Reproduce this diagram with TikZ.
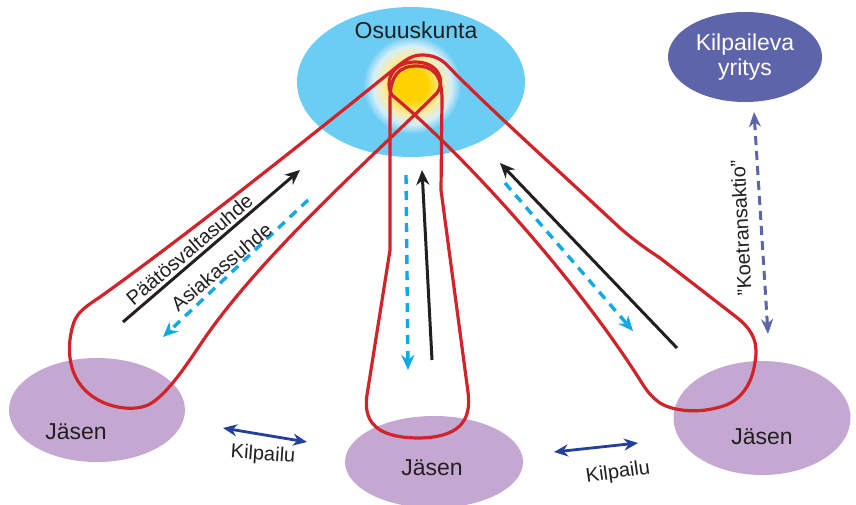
\documentclass[tikz,border=0pt]{standalone}
\usepackage{fontspec}
\setmainfont{Liberation Sans}
\usetikzlibrary{shapes.geometric,arrows.meta}
\definecolor{osublue}{HTML}{6CCDF4}
\definecolor{membercol}{HTML}{C5A8D1}
\definecolor{rivalcol}{HTML}{5E64A9}
\definecolor{loopred}{HTML}{D1232A}
\definecolor{flowcyan}{HTML}{11A8E6}
\definecolor{compblue}{HTML}{24409A}
\definecolor{inkcol}{HTML}{231F20}
\definecolor{glowyellow}{HTML}{FFD200}
\definecolor{glowpale}{HTML}{FBEBA6}
\definecolor{glowwhite}{HTML}{D6EEF8}
\pgfdeclareradialshading{glowshade}{\pgfpoint{0bp}{0bp}}{%
  color(0bp)=(glowyellow); color(8bp)=(glowyellow); color(15bp)=(glowpale);
  color(20bp)=(glowwhite); color(25bp)=(osublue); color(50bp)=(osublue)}
\tikzset{
  blob/.style={ellipse, inner sep=0pt},
  lbl/.style={font=\fontsize{23}{26}\selectfont, text=inkcol},
  smalllbl/.style={font=\fontsize{20}{23}\selectfont, text=inkcol},
  loopline/.style={draw=loopred, line width=3.2pt, line join=round},
  powerarrow/.style={draw=inkcol, line width=3pt, -{Stealth[length=15pt,width=13pt]}},
  custarrow/.style={draw=flowcyan, line width=3.4pt, dash pattern=on 9pt off 7pt, -{Stealth[length=15pt,width=13pt]}},
  comparrow/.style={draw=compblue, line width=2.8pt, {Stealth[length=14pt,width=12pt]}-{Stealth[length=14pt,width=12pt]}},
  trialarrow/.style={draw=rivalcol, line width=3pt, dash pattern=on 9pt off 6pt, {Stealth[length=15pt,width=12pt]}-{Stealth[length=15pt,width=12pt]}},
}
\begin{document}
\begin{tikzpicture}[x=1pt,y=-1pt]
\useasboundingbox (0,0) rectangle (856,504);
% Cooperative
\node[blob, fill=osublue, minimum width=228pt, minimum height=150pt] (coop) at (411,82) {};
\node[circle, minimum size=98pt, inner sep=0pt, shading=glowshade] (glow) at (412,85) {};
\node[lbl] (cooptext) at (416,30) {Osuuskunta};
% Competitor
\node[blob, fill=rivalcol, minimum width=154pt, minimum height=90pt, text=white,
      font=\fontsize{23}{25}\selectfont, align=center] (rival) at (745,57) {Kilpaileva\\yritys};
% Members
\node[blob, fill=membercol, minimum width=176pt, minimum height=104pt] (memL) at (97,410) {};
\node[blob, fill=membercol, minimum width=178pt, minimum height=92pt] (memM) at (434,462) {};
\node[blob, fill=membercol, minimum width=177pt, minimum height=114pt] (memR) at (762,418) {};
\node[lbl] (memLtext) at (76,432) {Jäsen};
\node[lbl] (memMtext) at (432,468) {Jäsen};
\node[lbl] (memRtext) at (762,437) {Jäsen};
% Red loops: left and right loops joined at the top
\draw[loopline] (100,297) .. controls (180,240) and (300,145) .. (393,70)
  .. controls (405,60) and (412,55) .. (422,55) .. controls (432,55) and (440,58) .. (447,65)
  .. controls (480,100) and (560,172) .. (620,228)
  .. controls (635,241) and (645,248) .. (660,258) -- (735,316)
  .. controls (755,331) and (758,345) .. (755,362)
  .. controls (752,385) and (740,402) .. (720,407)
  .. controls (700,413) and (675,412) .. (660,403)
  .. controls (650,396) and (645,388) .. (640,380)
  .. controls (580,285) and (470,160) .. (392,95)
  .. controls (384,82) and (392,62) .. (415,62)
  .. controls (438,62) and (446,80) .. (437,93)
  .. controls (380,150) and (260,255) .. (200,345)
  .. controls (180,375) and (165,395) .. (150,404)
  .. controls (135,412) and (110,408) .. (95,398)
  .. controls (66,380) and (66,345) .. (74,322)
  .. controls (78,312) and (85,307) .. cycle;
% Middle loop
\draw[loopline] (390,100) -- (390,250) -- (367,395)
  .. controls (362,428) and (385,438) .. (420,438)
  .. controls (458,437) and (472,422) .. (468,392) -- (441,190) -- (442,100)
  .. controls (442,74) and (433,66) .. (416,66)
  .. controls (399,66) and (390,76) .. cycle;
% Left pair of arrows
\coordinate (pLa) at (123,322); \coordinate (pLb) at (300,170);
\draw[powerarrow] (pLa) -- (pLb);
\coordinate (cLa) at (308,200); \coordinate (cLb) at (163,337);
\draw[custarrow] (cLa) -- (cLb);
\node[smalllbl, rotate=40.5, anchor=base, inner sep=0pt] (powertext) at (194,255) {Päätösvaltasuhde};
\node[smalllbl, rotate=40, anchor=base, inner sep=0pt] (custtext) at (226,272) {Asiakassuhde};
% Middle pair
\coordinate (cMa) at (406,175); \coordinate (cMb) at (408,370);
\draw[custarrow] (cMa) -- (cMb);
\coordinate (pMa) at (432,360); \coordinate (pMb) at (422,170);
\draw[powerarrow] (pMa) -- (pMb);
% Right pair
\coordinate (pRa) at (677,348); \coordinate (pRb) at (500,163);
\draw[powerarrow] (pRa) -- (pRb);
\coordinate (cRa) at (505,183); \coordinate (cRb) at (633,331);
\draw[custarrow] (cRa) -- (cRb);
% Trial transaction
\coordinate (tA) at (754,112); \coordinate (tB) at (768,334);
\draw[trialarrow] (tA) -- (tB);
\node[smalllbl, rotate=93] (trialtext) at (741,228) {”Koetransaktio”};
% Competition
\coordinate (kA) at (223,428); \coordinate (kB) at (307,442);
\draw[comparrow] (kA) -- (kB);
\node[smalllbl, rotate=-4] (comptextL) at (263,455) {Kilpailu};
\coordinate (kC) at (554,452); \coordinate (kD) at (638,443);
\draw[comparrow] (kC) -- (kD);
\node[smalllbl, rotate=8] (comptextR) at (618,473) {Kilpailu};
\end{tikzpicture}
\end{document}
